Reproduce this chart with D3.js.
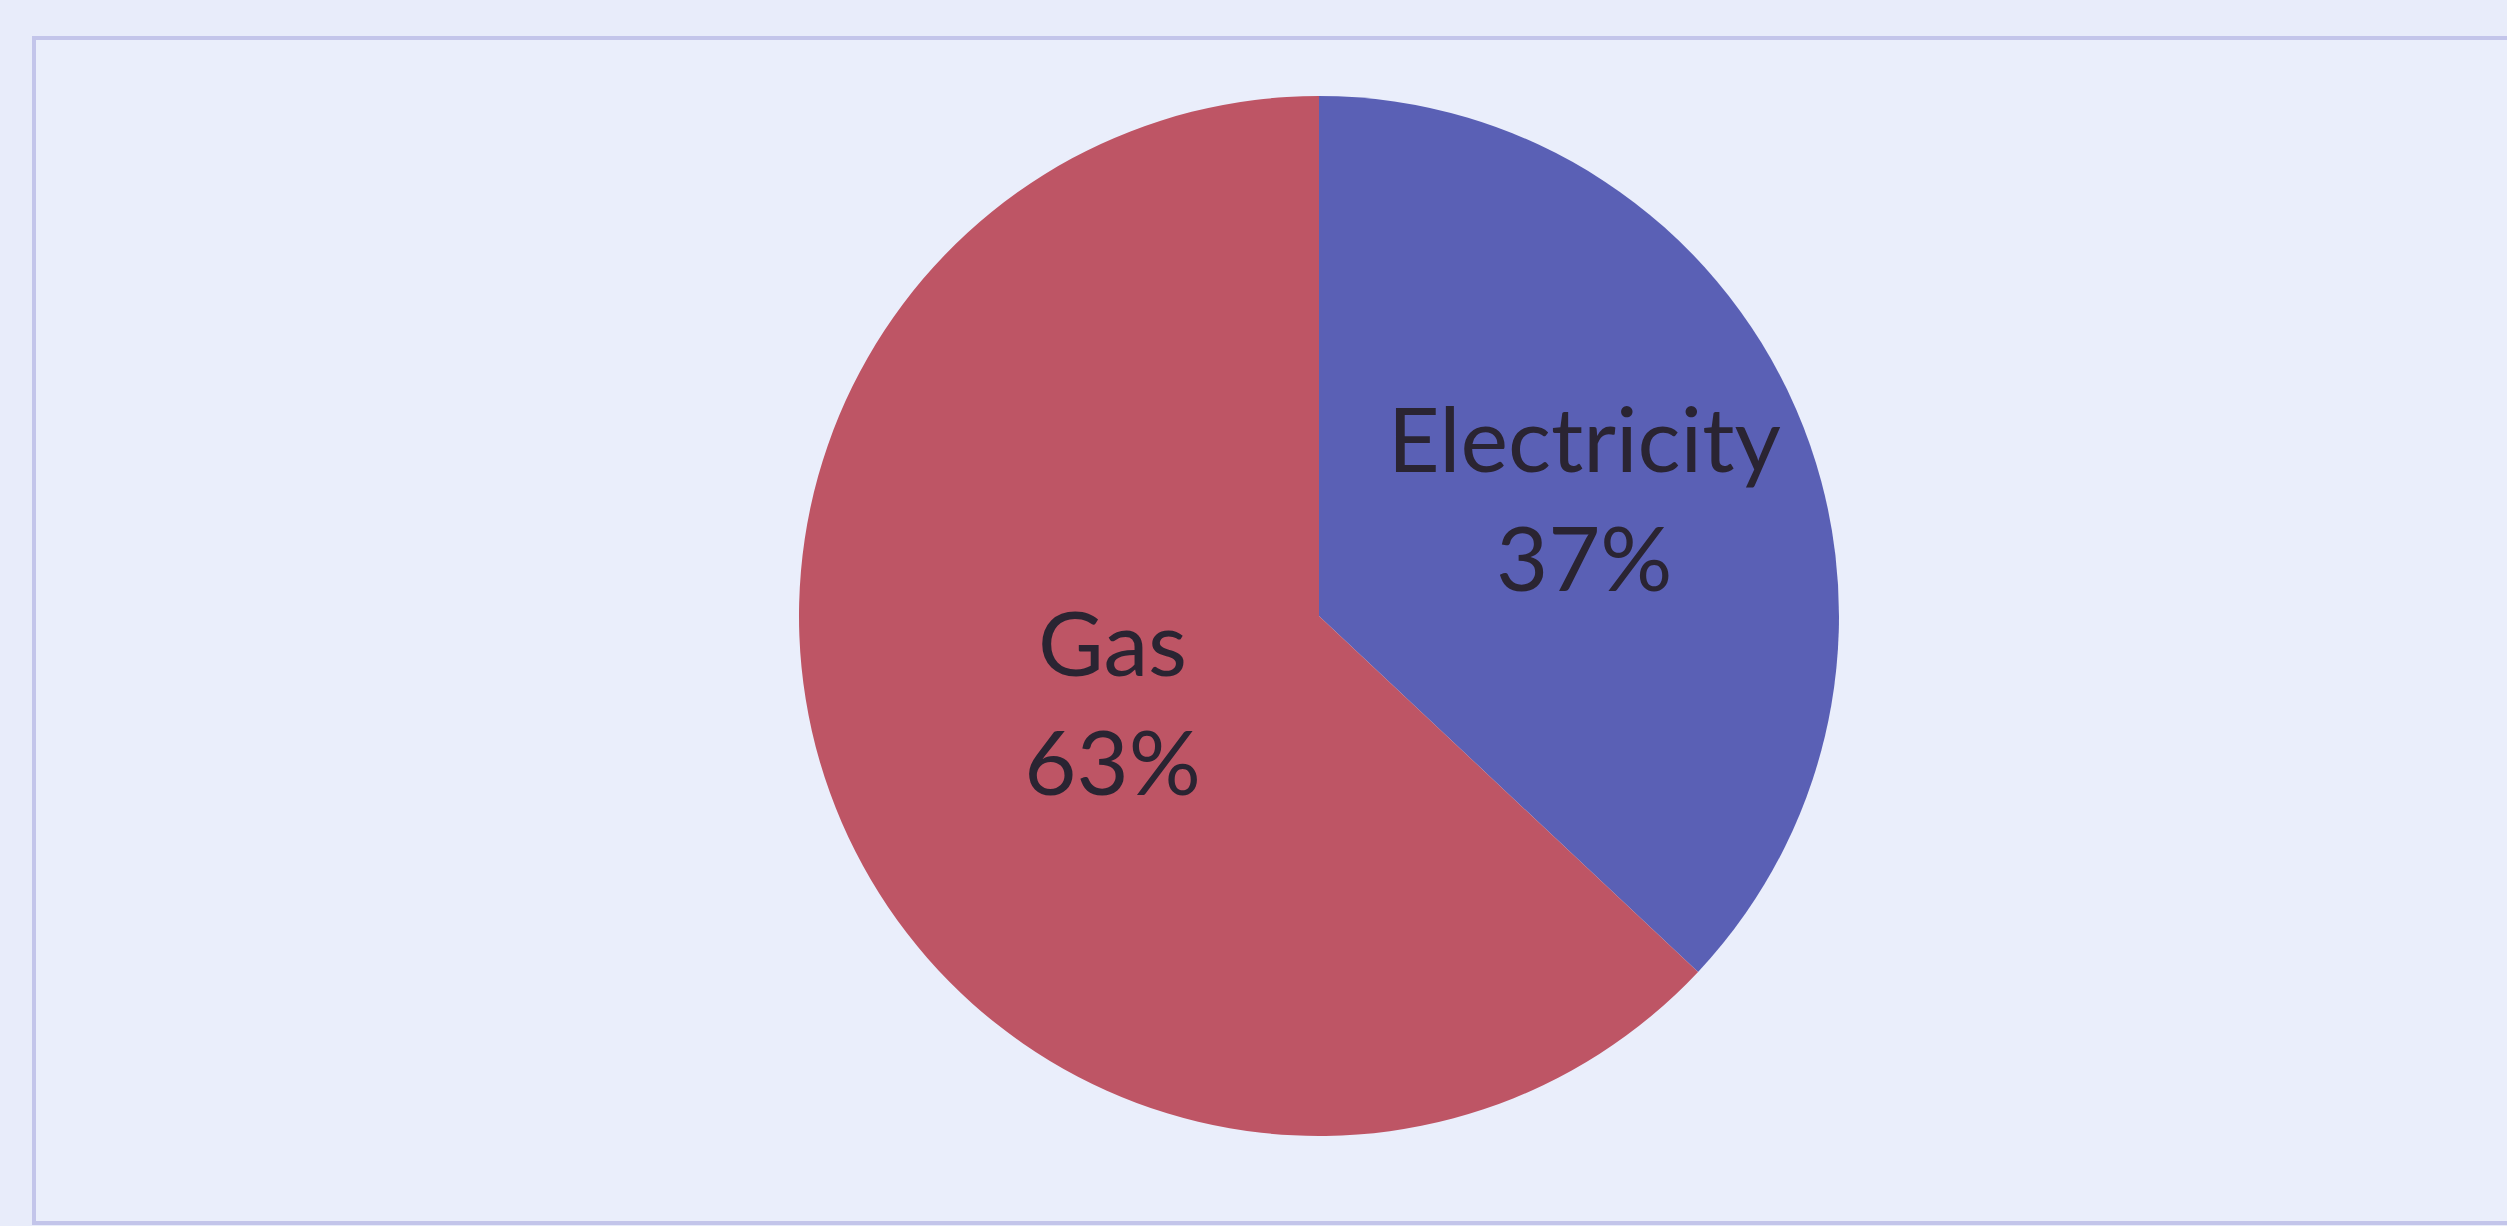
<!DOCTYPE html>
<html>
<head>
<meta charset="utf-8">
<script src="https://cdn.jsdelivr.net/npm/d3@7"></script>
<style>
  html, body { margin: 0; padding: 0; background: #e8ecfa; }
  svg { display: block; }
</style>
</head>
<body>
<div class="d3-wrapper"></div>
<script>
// data
const categories = ['Electricity', 'Gas'];
const shares = [37, 63];

const WIDTH = 2507, HEIGHT = 1226;
const CENTER = { x: 1319, y: 616 };
const RADIUS = 520;
// label distance from the centre, per slice (layout only)
const LABEL_R = [289, 225];

const colorScale = d3.scaleOrdinal()
  .domain(categories)
  .range(['#5a60b5', '#be5565']);

const data = categories.map((c, i) => ({ name: c, value: shares[i], idx: i }));

const pie = d3.pie()
  .sort(null)
  .value(d => d.value);

const arc = d3.arc().innerRadius(0).outerRadius(RADIUS);

const svg = d3.select('.d3-wrapper').append('svg')
  .attr('width', WIDTH)
  .attr('height', HEIGHT);

svg.append('rect')
  .attr('width', WIDTH)
  .attr('height', HEIGHT)
  .attr('fill', '#e8ecfa');

// chart area border
svg.append('rect')
  .attr('x', 34)
  .attr('y', 38)
  .attr('width', WIDTH + 20)
  .attr('height', 1185)
  .attr('fill', '#eaeefb')
  .attr('stroke', '#c3c5ea')
  .attr('stroke-width', 4);

const g = svg.append('g')
  .attr('transform', `translate(${CENTER.x},${CENTER.y})`);

const arcs = pie(data);

g.selectAll('.slice')
  .data(arcs)
  .enter().append('path')
  .attr('class', 'slice')
  .attr('d', arc)
  .attr('fill', d => colorScale(d.data.name));

const labels = g.selectAll('.label')
  .data(arcs)
  .enter().append('text')
  .attr('class', 'label')
  .attr('transform', d => {
    const r = LABEL_R[d.data.idx];
    const c = d3.arc().innerRadius(r).outerRadius(r).centroid(d);
    return `translate(${c[0]},${c[1]})`;
  })
  .attr('text-anchor', 'middle')
  .style('font-family', 'Lato, "Open Sans", sans-serif')
  .style('font-size', '90px')
  .style('fill', '#2a2432');

labels.append('tspan')
  .attr('x', 0)
  .attr('y', -29)
  .text(d => d.data.name);

labels.append('tspan')
  .attr('x', 0)
  .attr('y', 90)
  .text(d => d.data.value + '%');
</script>
</body>
</html>
